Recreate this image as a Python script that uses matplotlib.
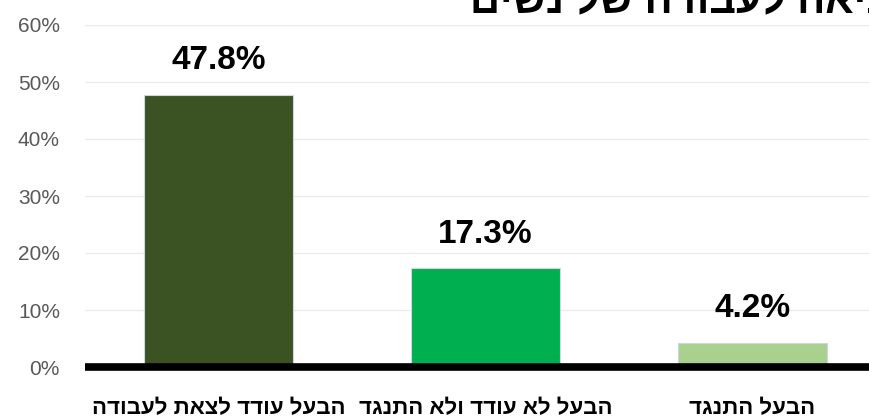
import matplotlib
matplotlib.use('Agg')
import matplotlib.pyplot as plt

# data
categories = ['הבעל עודד לצאת לעבודה', 'הבעל לא עודד ולא התנגד', 'הבעל התנגד']
values = [47.8, 17.3, 4.2]
colors = ['#3b5323', '#00b050', '#a9d18e']
yticks = [0, 10, 20, 30, 40, 50, 60]
title = 'יציאה לעבודה של נשים'

def rtl(s):
    # matplotlib has no bidi, so flip hebrew by hand
    return s[::-1]

fam = ['Liberation Sans', 'DejaVu Sans']

fig = plt.figure(figsize=(8.69, 4.19), dpi=100)
ax = fig.add_axes([85/869, (419-367)/419, 801/869, (367-25)/419])

x = range(len(values))
ax.bar(x, values, width=0.555, color=colors, edgecolor='#d0d4e4', linewidth=0.8, zorder=3)
for i, v in enumerate(values):
    ax.text(i, v + 6.0, '%.1f%%' % v, ha='center', va='center', fontsize=24,
            fontweight='bold', family=fam, color='black')

ax.set_xlim(-0.5, 2.5)
ax.set_ylim(0, 60)
ax.set_yticks(yticks)
ax.set_yticklabels(['%d%%' % t for t in yticks], fontsize=15, color='#595959', family=fam)
ax.yaxis.grid(True, color='#ebebeb', linewidth=1)
ax.set_axisbelow(True)
ax.tick_params(axis='y', length=0, pad=18)
ax.tick_params(axis='x', length=0, pad=22)
ax.set_xticks(list(x))
ax.set_xticklabels([rtl(c) for c in categories], fontsize=16, fontweight='bold', family=fam)
for s in ['top', 'right', 'left']:
    ax.spines[s].set_visible(False)
ax.spines['bottom'].set_linewidth(5.5)
ax.spines['bottom'].set_color('black')
ax.spines['bottom'].set_capstyle('butt')
ax.spines['bottom'].set_zorder(4)

fig.text(470/869, 1 - 13/419, rtl(title), ha='left', va='baseline', fontsize=30,
         fontweight='bold', family=fam)

fig.savefig('out.png', dpi=100)
